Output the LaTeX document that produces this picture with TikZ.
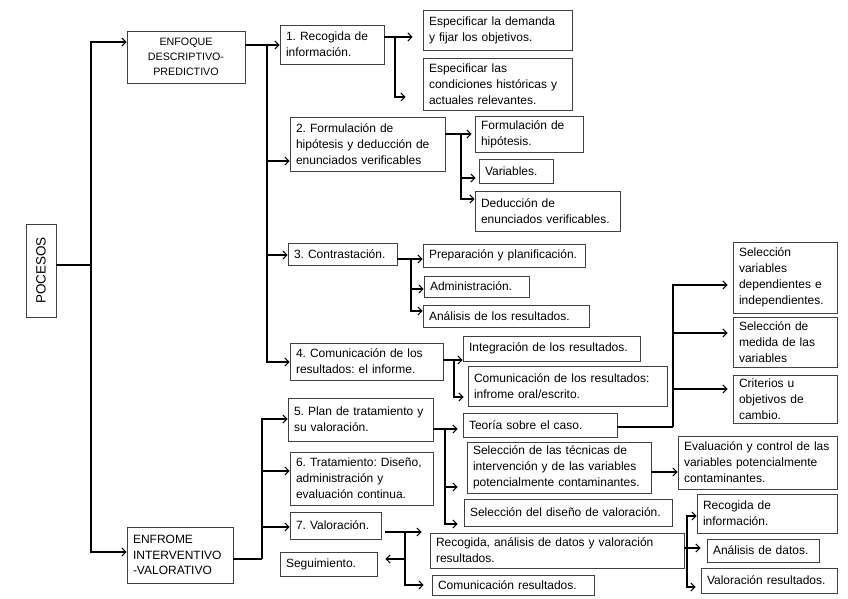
\documentclass[tikz,border=0pt]{standalone}
\usepackage{fontspec}
\usepackage{graphicx}
\setmainfont{Liberation Sans}
\usetikzlibrary{arrows.meta}
\tikzset{
  box/.style={draw=black!75, line width=0.8pt, inner xsep=6pt, inner ysep=1pt, align=left,
    font=\fontsize{12}{16}\selectfont},
  conn/.style={line width=1.1pt, black},
  thickconn/.style={line width=1.9pt, black},
  arr/.style={conn, -{Straight Barb[length=4pt,width=8pt,line width=1.1pt]}},
}
\newcommand\bx[7][]{%
  \pgfmathsetmacro\myBW{#4-#2}\pgfmathsetmacro\myBH{#5-#3}\pgfmathsetmacro\myTW{#4-#2-12}%
  \node[box,minimum width=\myBW pt,minimum height=\myBH pt,text width=\myTW pt,#1]
    (#6) at ({(#2+#4)/2},{(#3+#5)/2}) {#7};}
\begin{document}
\frenchspacing
\begin{tikzpicture}[x=1pt,y=-1pt]
\fill[white] (0,0) rectangle (848,599);
\useasboundingbox (0,0) rectangle (848,599);

% level 0 and 1
\node[box, minimum width=30pt, minimum height=93pt, inner sep=0pt, font=\fontsize{13.5}{16}\selectfont]
  (poc) at (41,270.5) {\rotatebox{90}{POCESOS}};
\bx[align=center, font=\fontsize{10.7}{15}\selectfont]{127}{31}{245}{83}{enfq}{ENFOQUE\\DESCRIPTIVO-\\PREDICTIVO}
\bx[font=\fontsize{12}{15.5}\selectfont]{127}{527}{233}{583}{enfr}{ENFROME\\INTERVENTIVO\\-VALORATIVO}

% level 2
\bx{280}{25}{384}{64}{b1}{1. Recogida de\\información.}
\bx{290}{117}{445}{171}{b2}{2. Formulación de\\hipótesis y deducción de\\enunciados verificables}
\bx{288}{243}{397}{265}{b3}{3. Contrastación.}
\bx{290}{343}{443}{380}{b4}{4. Comunicación de los\\resultados: el informe.}
\bx{288}{398}{433}{441}{b5}{5. Plan de tratamiento y\\su valoración.}
\bx{290}{452}{433}{505}{b6}{6. Tratamiento: Diseño,\\administración y\\evaluación continua.}
\bx{290}{512}{381}{539}{b7}{7. Valoración.}

% level 3
\bx{423}{10}{572}{50}{s11}{Especificar la demanda\\y fijar los objetivos.}
\bx{423}{58}{572}{110}{s12}{Especificar las\\condiciones históricas y\\actuales relevantes.}
\bx{475}{116}{583}{152}{s21}{Formulación de\\hipótesis.}
\bx{479}{159}{553}{183}{s22}{Variables.}
\bx{475}{191}{620}{231}{s23}{Deducción de\\enunciados verificables.}
\bx{423}{244}{585}{267}{s31}{Preparación y planificación.}
\bx{424}{276}{529}{297}{s32}{Administración.}
\bx{423}{305}{589}{327}{s33}{Análisis de los resultados.}
\bx{463}{336}{640}{361}{s41}{Integración de los resultados.}
\bx{468}{366}{667}{406}{s42}{Comunicación de los resultados:\\infrome oral/escrito.}
\bx{463}{413}{617}{437}{s51}{Teoría sobre el caso.}
\bx{467}{442}{651}{493}{s52}{Selección de las técnicas de\\intervención y de las variables\\potencialmente contaminantes.}
\bx{464}{499}{672}{526}{s53}{Selección del diseño de valoración.}
\bx{280}{552}{377}{576}{seg}{Seguimiento.}
\bx{430}{533}{684}{568}{rec}{Recogida, análisis de datos y valoración\\resultados.}
\bx{432}{575}{594}{595}{com}{Comunicación resultados.}

% level 4
\bx{733}{242}{837}{313}{t1}{Selección\\variables\\dependientes e\\independientes.}
\bx{733}{317}{837}{367}{t2}{Selección de\\medida de las\\variables}
\bx{733}{375}{837}{423}{t3}{Criterios u\\objetivos de\\cambio.}
\bx{678}{436}{837}{489}{ev}{Evaluación y control de las\\variables potencialmente\\contaminantes.}
\bx{697}{494}{837}{533}{r1}{Recogida de\\información.}
\bx{707}{539}{819}{562}{r2}{Análisis de datos.}
\bx{701}{568}{837}{593}{r3}{Valoración resultados.}

% connectors: POCESOS
\coordinate (jP) at (91,265);
\draw[conn] (poc.east |- jP) -- (jP);
\draw[arr] (jP) |- (enfq.west |- 0,42);
\draw[arr] (jP) |- (enfr.west |- 0,552);

% ENFOQUE
\coordinate (jE) at (267,45);
\draw[thickconn] (enfq.east |- jE) -- (jE);
\draw[arr] (jE) -- (b1.west |- jE);
\draw[arr] (jE) |- (b2.west |- 0,161);
\draw[arr] (jE) |- (b3.west |- 0,255);
\draw[arr] (jE) |- (b4.west |- 0,362);

% 1
\coordinate (j1) at (395,37);
\draw[conn] (b1.east |- j1) -- (j1);
\draw[arr, shorten >=10pt] (j1) -- (s11.west |- j1);
\draw[arr, shorten >=17pt] (j1) |- (s12.west |- 0,97);

% 2
\coordinate (j2) at (461,134);
\draw[conn] (b2.east |- j2) -- (j2);
\draw[arr, shorten >=3pt] (j2) -- (s21.west |- j2);
\draw[arr, shorten >=3pt] (j2) |- (s22.west |- 0,178);
\draw[arr] (j2) |- (s23.west |- 0,199);

% 3
\coordinate (j3) at (411,259);
\draw[conn] (b3.east |- j3) -- (j3);
\draw[arr] (j3) -- (s31.west |- j3);
\draw[arr] (j3) |- (s32.west |- 0,289);
\draw[arr] (j3) |- (s33.west |- 0,311);

% 4
\coordinate (j4) at (454,360);
\draw[conn] (b4.east |- j4) -- (j4);
\draw[arr] (j4) -- (s41.west |- j4);
\draw[arr, shorten >=4pt] (j4) |- (s42.west |- 0,397);

% ENFROME
\coordinate (jR) at (262,559);
\draw[conn] (enfr.east |- jR) -- (jR);
\draw[arr] (jR) |- (b5.west |- 0,419);
\draw[arr] (jR) |- (b6.west |- 0,471);
\draw[arr] (jR) |- (b7.west |- 0,527);

% 5
\coordinate (j5) at (445,429);
\draw[conn] (b5.east |- j5) -- (j5);
\draw[arr, shorten >=5pt] (j5) -- (s51.west |- j5);
\draw[arr, shorten >=9pt] (j5) |- (s52.west |- 0,487);
\draw[arr, shorten >=6pt] (j5) |- (s53.west |- 0,524);

% Teoria
\coordinate (jT) at (673,427);
\draw[thickconn] (s51.east |- jT) -- (jT);
\draw[arr, shorten >=5pt] (jT) |- (t1.west |- 0,285);
\draw[arr, shorten >=5pt] (jT) |- (t2.west |- 0,333);
\draw[arr, shorten >=5pt] (jT) |- (t3.west |- 0,389);

% Seleccion tecnicas -> Evaluacion
\draw[arr] (s52.east |- 0,472) -- (ev.west |- 0,472);

% 7
\coordinate (j7) at (405,532);
\coordinate (b7o) at ([xshift=4pt]b7.east);
\draw[conn] (b7o |- j7) -- (j7);
\draw[arr, shorten >=8pt] (j7) -- (rec.west |- j7);
\draw[arr, shorten >=8pt] (j7) |- (seg.east |- 0,559);
\draw[arr, shorten >=8pt] (j7) |- (com.west |- 0,585);

% Recogida, analisis
\coordinate (j8) at (687,548);
\draw[conn] (rec.east |- j8) -- (j8);
\draw[arr] (j8) |- (r1.west |- 0,516);
\draw[arr, shorten >=6pt] (j8) -- (r2.west |- j8);
\draw[arr, shorten >=5pt] (j8) |- (r3.west |- 0,587);
\end{tikzpicture}
\end{document}
